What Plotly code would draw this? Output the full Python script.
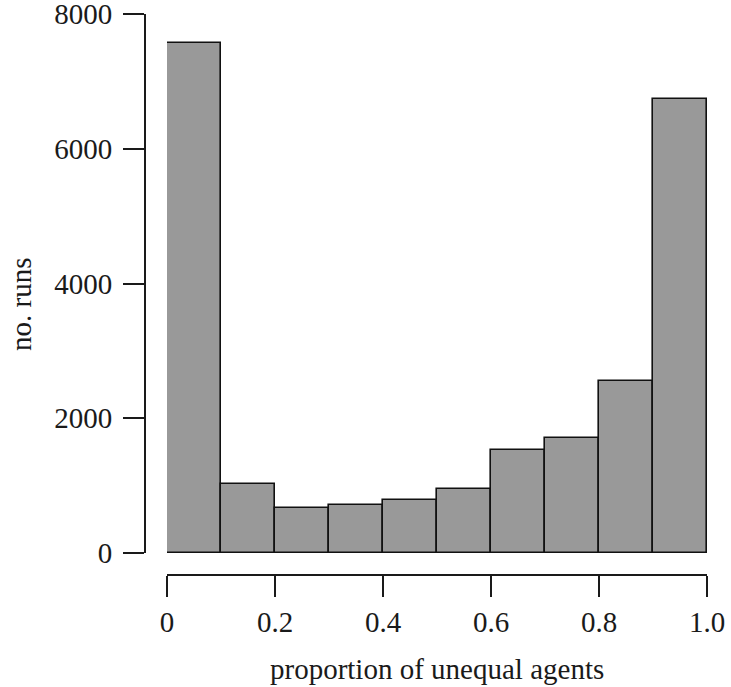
import plotly.graph_objects as go

bin_edges = [0.0, 0.1, 0.2, 0.3, 0.4, 0.5, 0.6, 0.7, 0.8, 0.9, 1.0]
run_counts = [7570, 1025, 668, 712, 787, 950, 1530, 1705, 2553, 6740]
x_ticks = [0, 0.2, 0.4, 0.6, 0.8, 1.0]
x_tick_labels = ["0", "0.2", "0.4", "0.6", "0.8", "1.0"]
y_ticks = [0, 2000, 4000, 6000, 8000]

centers = [(a + b) / 2 for a, b in zip(bin_edges[:-1], bin_edges[1:])]
widths = [b - a for a, b in zip(bin_edges[:-1], bin_edges[1:])]

font = "Liberation Serif, Times New Roman, serif"
ink = "#1a1a1a"

# plot area: x 0..1 -> px 167..707, y 0..8000 -> px 553..14
# paper spans x 145..727, y 0..575 ; axes detached like base R
fig = go.Figure(
    go.Bar(
        x=centers,
        y=run_counts,
        width=widths,
        marker=dict(color="#999999", line=dict(color="#111111", width=1.6)),
        showlegend=False,
    )
)

fig.update_layout(
    width=731,
    height=687,
    margin=dict(l=145, r=4, t=0, b=112),
    plot_bgcolor="white",
    paper_bgcolor="white",
    font=dict(family=font, size=29, color=ink),
    bargap=0,
    xaxis=dict(
        domain=[22 / 582, 562 / 582],
        range=[0, 1],
        anchor="free",
        position=0,
        automargin=False,
        showgrid=False,
        zeroline=False,
        showline=True,
        linecolor=ink,
        linewidth=2,
        ticks="outside",
        ticklen=21,
        tickwidth=2,
        tickcolor=ink,
        tickvals=x_ticks,
        ticktext=x_tick_labels,
    ),
    yaxis=dict(
        domain=[22 / 575, 561 / 575],
        range=[0, 8000],
        anchor="free",
        position=0,
        automargin=False,
        showgrid=False,
        zeroline=False,
        showline=True,
        linecolor=ink,
        linewidth=2,
        ticks="outside",
        ticklen=21,
        tickwidth=2,
        tickcolor=ink,
        tickvals=y_ticks,
        ticklabelstandoff=5,
        ticklabeloverflow="allow",
    ),
)

# axis titles as annotations (R's mtext placement)
fig.add_annotation(
    text="proportion of unequal agents",
    xref="paper", yref="paper",
    x=(437 - 145) / 582, y=(575 - 669) / 575,
    xanchor="center", yanchor="middle",
    showarrow=False, font=dict(size=29),
)
fig.add_annotation(
    text="no. runs",
    xref="paper", yref="paper",
    x=(21 - 145) / 582, y=(575 - 305) / 575,
    xanchor="center", yanchor="middle", textangle=-90,
    showarrow=False, font=dict(size=29),
)

fig.write_html("out.html", config={"displayModeBar": False},
               post_script="document.body.style.margin='0';")
